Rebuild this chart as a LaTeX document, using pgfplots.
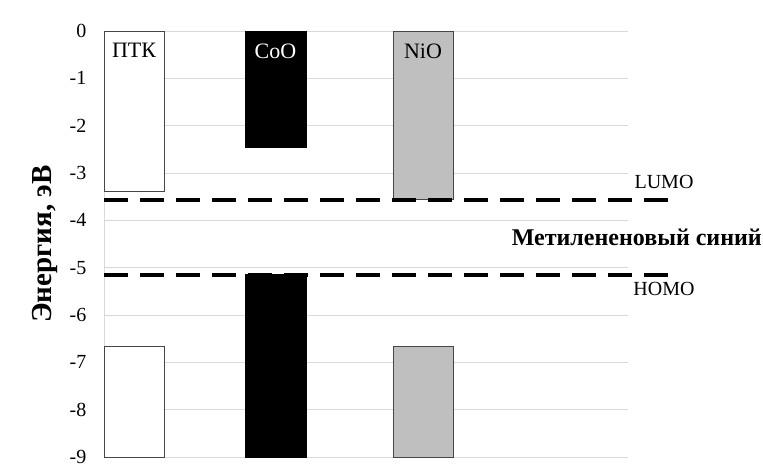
\documentclass[border=0pt]{standalone}
\usepackage{pgfplots}
\pgfplotsset{compat=1.18}
\usepackage{fontspec}
\setmainfont{Liberation Serif}
\definecolor{grd}{RGB}{217,217,217}
\definecolor{nio}{RGB}{191,191,191}
\definecolor{edge}{RGB}{70,70,70}
\begin{document}
\begin{tikzpicture}[x=1pt,y=1pt]
\path[use as bounding box] (0,0) rectangle (763,467);
\begin{axis}[
  at={(104pt,10pt)}, anchor=south west,
  scale only axis, width=524pt, height=426pt,
  xmin=104, xmax=628, ymin=-9, ymax=0,
  clip=false,
  axis y line=left, axis x line=none,
  y axis line style={draw=grd, line width=1pt, -},
  xtick=\empty,
  ytick={-9,-8,-7,-6,-5,-4,-3,-2,-1,0},
  yticklabels={-9,-8,-7,-6,-5,-4,-3,-2,-1,0},
  ytick style={draw=none},
  yticklabel style={font=\fontsize{20}{20}\selectfont, xshift=-12pt},
  ymajorgrids, grid style={draw=grd, line width=1pt},
  ylabel={\textbf{Энергия, эВ}},
  ylabel style={font=\fontsize{29}{29}\selectfont, at={(axis description cs:-0.113,0.5)}, anchor=center},
]
% upper bars
\addplot[fill=white, draw=edge, line width=1pt] coordinates {(104,0) (164,0) (164,-3.40) (104,-3.40)} -- cycle;
\addplot[fill=black, draw=black, line width=1pt] coordinates {(245,0) (306,0) (306,-2.47) (245,-2.47)} -- cycle;
\addplot[fill=nio, draw=edge, line width=1pt] coordinates {(393,0) (453,0) (453,-3.57) (393,-3.57)} -- cycle;
% lower bars
\addplot[fill=white, draw=edge, line width=1pt] coordinates {(104,-9) (164,-9) (164,-6.67) (104,-6.67)} -- cycle;
\addplot[fill=black, draw=black, line width=1pt] coordinates {(245,-9) (306,-9) (306,-5.14) (245,-5.14)} -- cycle;
\addplot[fill=nio, draw=edge, line width=1pt] coordinates {(393,-9) (453,-9) (453,-6.67) (393,-6.67)} -- cycle;
% LUMO / HOMO of methylene blue
\addplot[black, line width=3.5pt, dash pattern=on 24pt off 12pt] coordinates {(104,-3.57) (677,-3.57)};
\addplot[black, line width=3.5pt, dash pattern=on 24pt off 12pt] coordinates {(104,-5.15) (668,-5.15)};
% labels
\node[font=\fontsize{22}{22}\selectfont] at (axis cs:134,-0.40) {ПТК};
\node[font=\fontsize{22}{22}\selectfont, text=white] at (axis cs:275.5,-0.43) {CoO};
\node[font=\fontsize{22}{22}\selectfont] at (axis cs:423,-0.43) {NiO};
\node[font=\fontsize{20}{20}\selectfont] at (axis cs:664,-3.19) {LUMO};
\node[font=\fontsize{20}{20}\selectfont] at (axis cs:664,-5.45) {HOMO};
\node[font=\fontsize{24}{24}\selectfont\bfseries, anchor=east, inner sep=1pt] at (axis cs:763,-4.35) {Метилененовый синий};
\end{axis}
\end{tikzpicture}
\end{document}
